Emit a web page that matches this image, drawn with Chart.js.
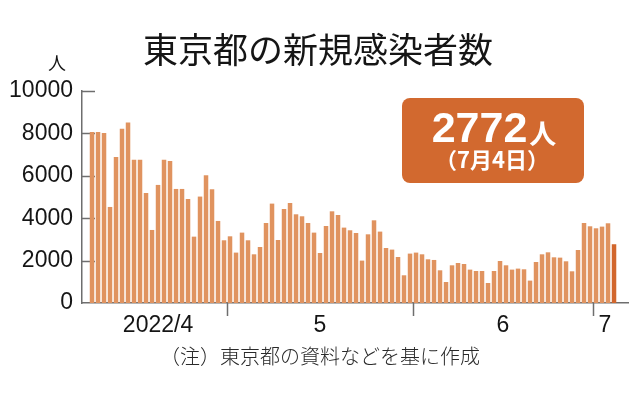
<!DOCTYPE html>
<html>
<head>
<meta charset="utf-8">
<script src="https://cdn.jsdelivr.net/npm/chart.js@4"></script>
<style>
html,body{margin:0;padding:0;background:#fff;}
#wrap{width:638px;height:395px;position:relative;}
</style>
</head>
<body>
<div id="wrap"><canvas id="c" width="638" height="395"></canvas></div>
<script>
// ---- data ----
const titleText = '東京都の新規感染者数';
const unitText = '人';
const noteText = '（注）東京都の資料などを基に作成';
const startDate = '2022-04-08';
const cases = [
  8066, 8066, 8020, 4530, 6890, 8225, 8520, 6760, 6760, 5190, 3445, 5570, 6760, 6700, 5380, 5380, 4905, 3130, 5020, 6025, 5365, 3870,
  2958, 3146, 2377, 3320, 2958, 2297, 2642, 3774, 4688, 2972, 4434, 4717, 4184, 4090, 3774, 3320, 2358, 3632, 4325, 4151, 3556, 3430, 3302, 2000, 3240, 3900, 3368, 2594, 2519, 2170, 1307, 2330, 2377,
  2297, 2061, 2030, 1542, 991, 1778, 1887, 1840, 1575, 1509, 1509, 943, 1509, 1981, 1778, 1575, 1622, 1590, 1056, 1934, 2297, 2391, 2155, 2140, 1967, 1495, 2500, 3774, 3618, 3524, 3603, 3760, 2772
];
const yTicks = [0, 2000, 4000, 6000, 8000, 10000];
const monthNames = ['2022/4', '5', '6', '7'];
const latestValue = '2772';
const latestDate = '（7月4日）';

// dates for each bar
const dates = [];
{
  const d0 = new Date(startDate + 'T00:00:00');
  for (let i = 0; i < cases.length; i++) {
    const d = new Date(d0.getTime());
    d.setDate(d0.getDate() + i);
    dates.push(d);
  }
}
const dateLabels = dates.map(d => (d.getMonth() + 1) + '/' + d.getDate());

// ---- styles ----
const barLight = '#e0935f';
const barDark = '#d2662c';
const boxColor = '#d2692f';
const axisColor = '#6e6e6e';
const X_MIN = -1.67, X_MAX = 89.33;

// month groups
const months = [];
dates.forEach((d, i) => {
  const m = d.getMonth();
  if (!months.length || months[months.length - 1].m !== m) months.push({ m, first: i, last: i });
  else months[months.length - 1].last = i;
});
const boundaries = months.slice(1).map(g => g.first - 0.5);
const labelPos = months.map(g => (Math.max(g.first - 0.5, X_MIN) + Math.min(g.last + 0.5, X_MAX)) / 2);

const decor = {
  id: 'decor',
  beforeDatasetsDraw(chart) {
    const { ctx, chartArea, scales } = chart;
    ctx.save();
    ctx.strokeStyle = axisColor;
    ctx.lineWidth = 1.5;
    yTicks.forEach(v => {
      if (v === 0) return;
      const y = Math.round(scales.y.getPixelForValue(v)) + 0.5;
      ctx.beginPath();
      ctx.moveTo(chartArea.left, y);
      ctx.lineTo(chartArea.left + 13, y);
      ctx.stroke();
    });
    ctx.restore();
  },
  afterDraw(chart) {
    const { ctx, chartArea, scales } = chart;
    ctx.save();
    // month boundary ticks
    ctx.strokeStyle = axisColor;
    ctx.lineWidth = 1.5;
    boundaries.forEach(b => {
      const x = Math.round(scales.x.getPixelForValue(b)) + 0.5;
      ctx.beginPath();
      ctx.moveTo(x, chartArea.bottom);
      ctx.lineTo(x, chartArea.bottom + 13);
      ctx.stroke();
    });
    // title
    ctx.fillStyle = '#151515';
    ctx.textAlign = 'center';
    ctx.textBaseline = 'middle';
    ctx.font = '400 35px "Noto Sans CJK JP"';
    ctx.fillText(titleText, 318, 50);
    // unit
    ctx.font = '400 18px "Noto Sans CJK JP"';
    ctx.fillText(unitText, 57, 63);
    // footnote
    ctx.fillStyle = '#2a2a2a';
    ctx.font = '300 20px "Noto Sans CJK JP"';
    ctx.fillText(noteText, 320, 356);
    // box
    const bx = 402, by = 98, bw = 182, bh = 85, r = 8;
    ctx.fillStyle = boxColor;
    ctx.beginPath();
    ctx.roundRect(bx, by, bw, bh, r);
    ctx.fill();
    ctx.fillStyle = '#ffffff';
    ctx.textBaseline = 'alphabetic';
    ctx.font = 'bold 43px "Liberation Sans", Arial, sans-serif';
    const w1 = ctx.measureText(latestValue).width;
    ctx.font = 'bold 27px "Noto Sans CJK JP"';
    const w2 = ctx.measureText(unitText).width;
    const sx = 494 - (w1 + w2 + 2) / 2;
    ctx.textAlign = 'left';
    ctx.font = 'bold 43px "Liberation Sans", Arial, sans-serif';
    ctx.fillText(latestValue, sx, 142);
    ctx.font = 'bold 27px "Noto Sans CJK JP"';
    ctx.fillText(unitText, sx + w1 + 2, 144);
    ctx.textAlign = 'center';
    ctx.textBaseline = 'middle';
    ctx.font = 'bold 22px "Noto Sans CJK JP"';
    ctx.fillText(latestDate, 492, 160);
    ctx.restore();
  }
};

new Chart(document.getElementById('c'), {
  type: 'bar',
  data: {
    labels: dateLabels,
    datasets: [{
      data: cases.map((v, i) => ({ x: i, y: v })),
      backgroundColor: cases.map((v, i) => i === cases.length - 1 ? barDark : barLight),
      borderWidth: 0,
      barPercentage: 0.75,
      categoryPercentage: 1.0
    }]
  },
  options: {
    responsive: false,
    animation: false,
    devicePixelRatio: 1,
    layout: { padding: { top: 91, left: 0, right: 10, bottom: 0 } },
    plugins: { legend: { display: false }, tooltip: { enabled: false }, title: { display: false } },
    scales: {
      x: {
        type: 'linear',
        min: X_MIN,
        max: X_MAX,
        offset: false,
        grid: { display: false, drawTicks: false },
        border: { display: true, color: axisColor, width: 1.5 },
        afterBuildTicks(scale) { scale.ticks = labelPos.map(v => ({ value: v })); },
        afterFit(scale) { scale.height = 92; },
        ticks: {
          autoSkip: false,
          maxRotation: 0,
          padding: 9,
          color: '#151515',
          font: { family: '"Liberation Sans", Arial, sans-serif', size: 23 },
          callback(value, idx) { return monthNames[idx]; }
        }
      },
      y: {
        min: 0,
        max: 10000,
        grid: { display: false, drawTicks: false },
        border: { display: true, color: axisColor, width: 1.5 },
        afterBuildTicks(scale) { scale.ticks = yTicks.map(v => ({ value: v })); },
        afterFit(scale) { scale.width = 82; },
        ticks: {
          padding: 9,
          color: '#151515',
          font: { family: '"Liberation Sans", Arial, sans-serif', size: 23 },
          callback(v) { return String(v); }
        }
      }
    }
  },
  plugins: [decor]
});
</script>
</body>
</html>
